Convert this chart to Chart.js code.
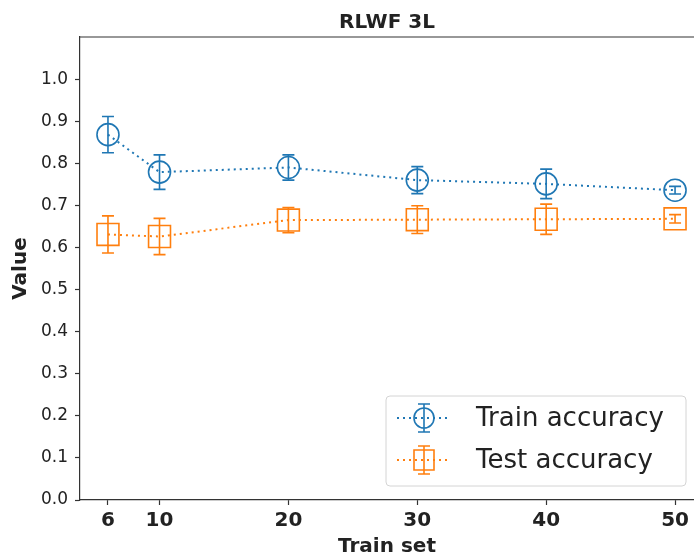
<!DOCTYPE html>
<html>
<head>
<meta charset="utf-8">
<script src="https://cdn.jsdelivr.net/npm/chart.js@4/dist/chart.umd.min.js"></script>
<style>
  body { margin: 0; background: #fff; }
  canvas { display: block; }
</style>
</head>
<body>
<canvas id="chart" width="694" height="557"></canvas>
<script>
const trainSizes = [6, 10, 20, 30, 40, 50];
const trainAcc = [0.868, 0.779, 0.790, 0.760, 0.751, 0.736];
const trainErr = [0.043, 0.041, 0.030, 0.032, 0.035, 0.009];
const testAcc = [0.631, 0.626, 0.665, 0.666, 0.667, 0.668];
const testErr = [0.044, 0.043, 0.030, 0.033, 0.036, 0.010];
const yTicks = [0, 0.1, 0.2, 0.3, 0.4, 0.5, 0.6, 0.7, 0.8, 0.9, 1.0];

const BLUE = "#1f77b4";
const ORANGE = "#ff7f0e";
const INK = "#222222";

const errors = [trainErr, testErr];

// error bars + spine on top + title + legend box
const extras = {
  id: "extras",
  afterDatasetsDraw(chart) {
    const ctx = chart.ctx;
    const xs = chart.scales.x;
    const ys = chart.scales.y;
    chart.data.datasets.forEach((ds, i) => {
      ctx.save();
      ctx.strokeStyle = ds.borderColor;
      ctx.lineWidth = 1.6;
      ds.data.forEach((p, j) => {
        const px = xs.getPixelForValue(p.x);
        const top = ys.getPixelForValue(p.y + errors[i][j]);
        const bot = ys.getPixelForValue(p.y - errors[i][j]);
        ctx.beginPath();
        ctx.moveTo(px, top); ctx.lineTo(px, bot);
        ctx.moveTo(px - 6, top); ctx.lineTo(px + 6, top);
        ctx.moveTo(px - 6, bot); ctx.lineTo(px + 6, bot);
        ctx.stroke();
      });
      ctx.restore();
    });
  },
  afterDraw(chart) {
    const ctx = chart.ctx;
    const area = chart.chartArea;
    ctx.save();
    // top spine
    ctx.strokeStyle = "#333";
    ctx.lineWidth = 1.2;
    ctx.beginPath();
    ctx.moveTo(area.left, area.top);
    ctx.lineTo(area.right, area.top);
    ctx.stroke();

    // title
    ctx.fillStyle = INK;
    ctx.font = "bold 20px 'DejaVu Sans'";
    ctx.textAlign = "center";
    ctx.textBaseline = "alphabetic";
    ctx.fillText("RLWF 3L", (area.left + area.right) / 2, 28);

    // legend
    const bx = 386, by = 396, bw = 300, bh = 90;
    ctx.fillStyle = "rgba(255,255,255,0.85)";
    ctx.strokeStyle = "#d4d4d4";
    ctx.lineWidth = 1;
    ctx.beginPath();
    ctx.roundRect(bx, by, bw, bh, 4);
    ctx.fill();
    ctx.stroke();

    const rows = [418, 460];
    chart.data.datasets.forEach((ds, i) => {
      const cy = rows[i];
      ctx.strokeStyle = ds.borderColor;
      ctx.lineWidth = 2;
      ctx.setLineDash([2, 4]);
      ctx.beginPath();
      ctx.moveTo(397, cy); ctx.lineTo(450, cy);
      ctx.stroke();
      ctx.setLineDash([]);
      ctx.lineWidth = 1.6;
      const mx = 424;
      ctx.beginPath();
      if (ds.pointStyle === "circle") {
        ctx.arc(mx, cy, 10, 0, Math.PI * 2);
      } else {
        ctx.rect(mx - 10, cy - 10, 20, 20);
      }
      ctx.stroke();
      ctx.beginPath();
      ctx.moveTo(mx, cy - 14); ctx.lineTo(mx, cy + 14);
      ctx.moveTo(mx - 6, cy - 14); ctx.lineTo(mx + 6, cy - 14);
      ctx.moveTo(mx - 6, cy + 14); ctx.lineTo(mx + 6, cy + 14);
      ctx.stroke();

      ctx.fillStyle = INK;
      ctx.font = "26px 'DejaVu Sans'";
      ctx.textAlign = "left";
      ctx.textBaseline = "middle";
      ctx.fillText(ds.label, 476, cy + 1);
    });
    ctx.restore();
  }
};

new Chart(document.getElementById("chart").getContext("2d"), {
  type: "line",
  data: {
    datasets: [
      {
        label: "Train accuracy",
        data: trainSizes.map((x, i) => ({ x: x, y: trainAcc[i] })),
        borderColor: BLUE,
        backgroundColor: "rgba(0,0,0,0)",
        borderWidth: 2,
        borderDash: [2, 4],
        pointStyle: "circle",
        pointRadius: 11,
        pointBorderWidth: 1.6,
        pointBorderColor: BLUE,
        pointBackgroundColor: "rgba(0,0,0,0)",
        tension: 0,
      },
      {
        label: "Test accuracy",
        data: trainSizes.map((x, i) => ({ x: x, y: testAcc[i] })),
        borderColor: ORANGE,
        backgroundColor: "rgba(0,0,0,0)",
        borderWidth: 2,
        borderDash: [2, 4],
        pointStyle: "rect",
        pointRadius: 15.5,
        pointBorderWidth: 1.6,
        pointBorderColor: ORANGE,
        pointBackgroundColor: "rgba(0,0,0,0)",
        tension: 0,
      },
    ],
  },
  options: {
    responsive: false,
    animation: false,
    events: [],
    layout: { autoPadding: false, padding: { top: 37, right: 0, left: 0, bottom: 0 } },
    plugins: {
      legend: { display: false },
      title: { display: false },
      tooltip: { enabled: false },
    },
    scales: {
      x: {
        type: "linear",
        min: 3.83,
        max: 51.47,
        afterBuildTicks: (scale) => {
          scale.ticks = trainSizes.map((v) => ({ value: v }));
        },
        afterFit: (scale) => {
          scale.height = 57;
          scale.paddingRight = 0;
          scale.paddingLeft = 0;
        },
        grid: { drawOnChartArea: false, color: "#333", tickLength: 5, tickWidth: 1.2 },
        border: { color: "#333", width: 1.2 },
        ticks: {
          color: INK,
          padding: 4,
          maxRotation: 0,
          font: { family: "'DejaVu Sans'", size: 20, weight: "bold" },
        },
        title: {
          display: true,
          text: "Train set",
          color: INK,
          padding: { top: 0, bottom: 0 },
          font: { family: "'DejaVu Sans'", size: 20, weight: "bold", lineHeight: 1 },
        },
      },
      y: {
        min: 0,
        max: 1.1,
        afterBuildTicks: (scale) => {
          scale.ticks = yTicks.map((v) => ({ value: v }));
        },
        afterFit: (scale) => { scale.width = 80; },
        grid: { drawOnChartArea: false, color: "#333", tickLength: 5, tickWidth: 1.2 },
        border: { color: "#333", width: 1.2 },
        ticks: {
          color: INK,
          padding: 7,
          font: { family: "'DejaVu Sans'", size: 17 },
          callback: (v) => v.toFixed(1),
        },
        title: {
          display: true,
          text: "Value",
          color: INK,
          padding: { top: 11, bottom: 0 },
          font: { family: "'DejaVu Sans'", size: 20, weight: "bold", lineHeight: 1 },
        },
      },
    },
  },
  plugins: [extras],
});
</script>
</body>
</html>
